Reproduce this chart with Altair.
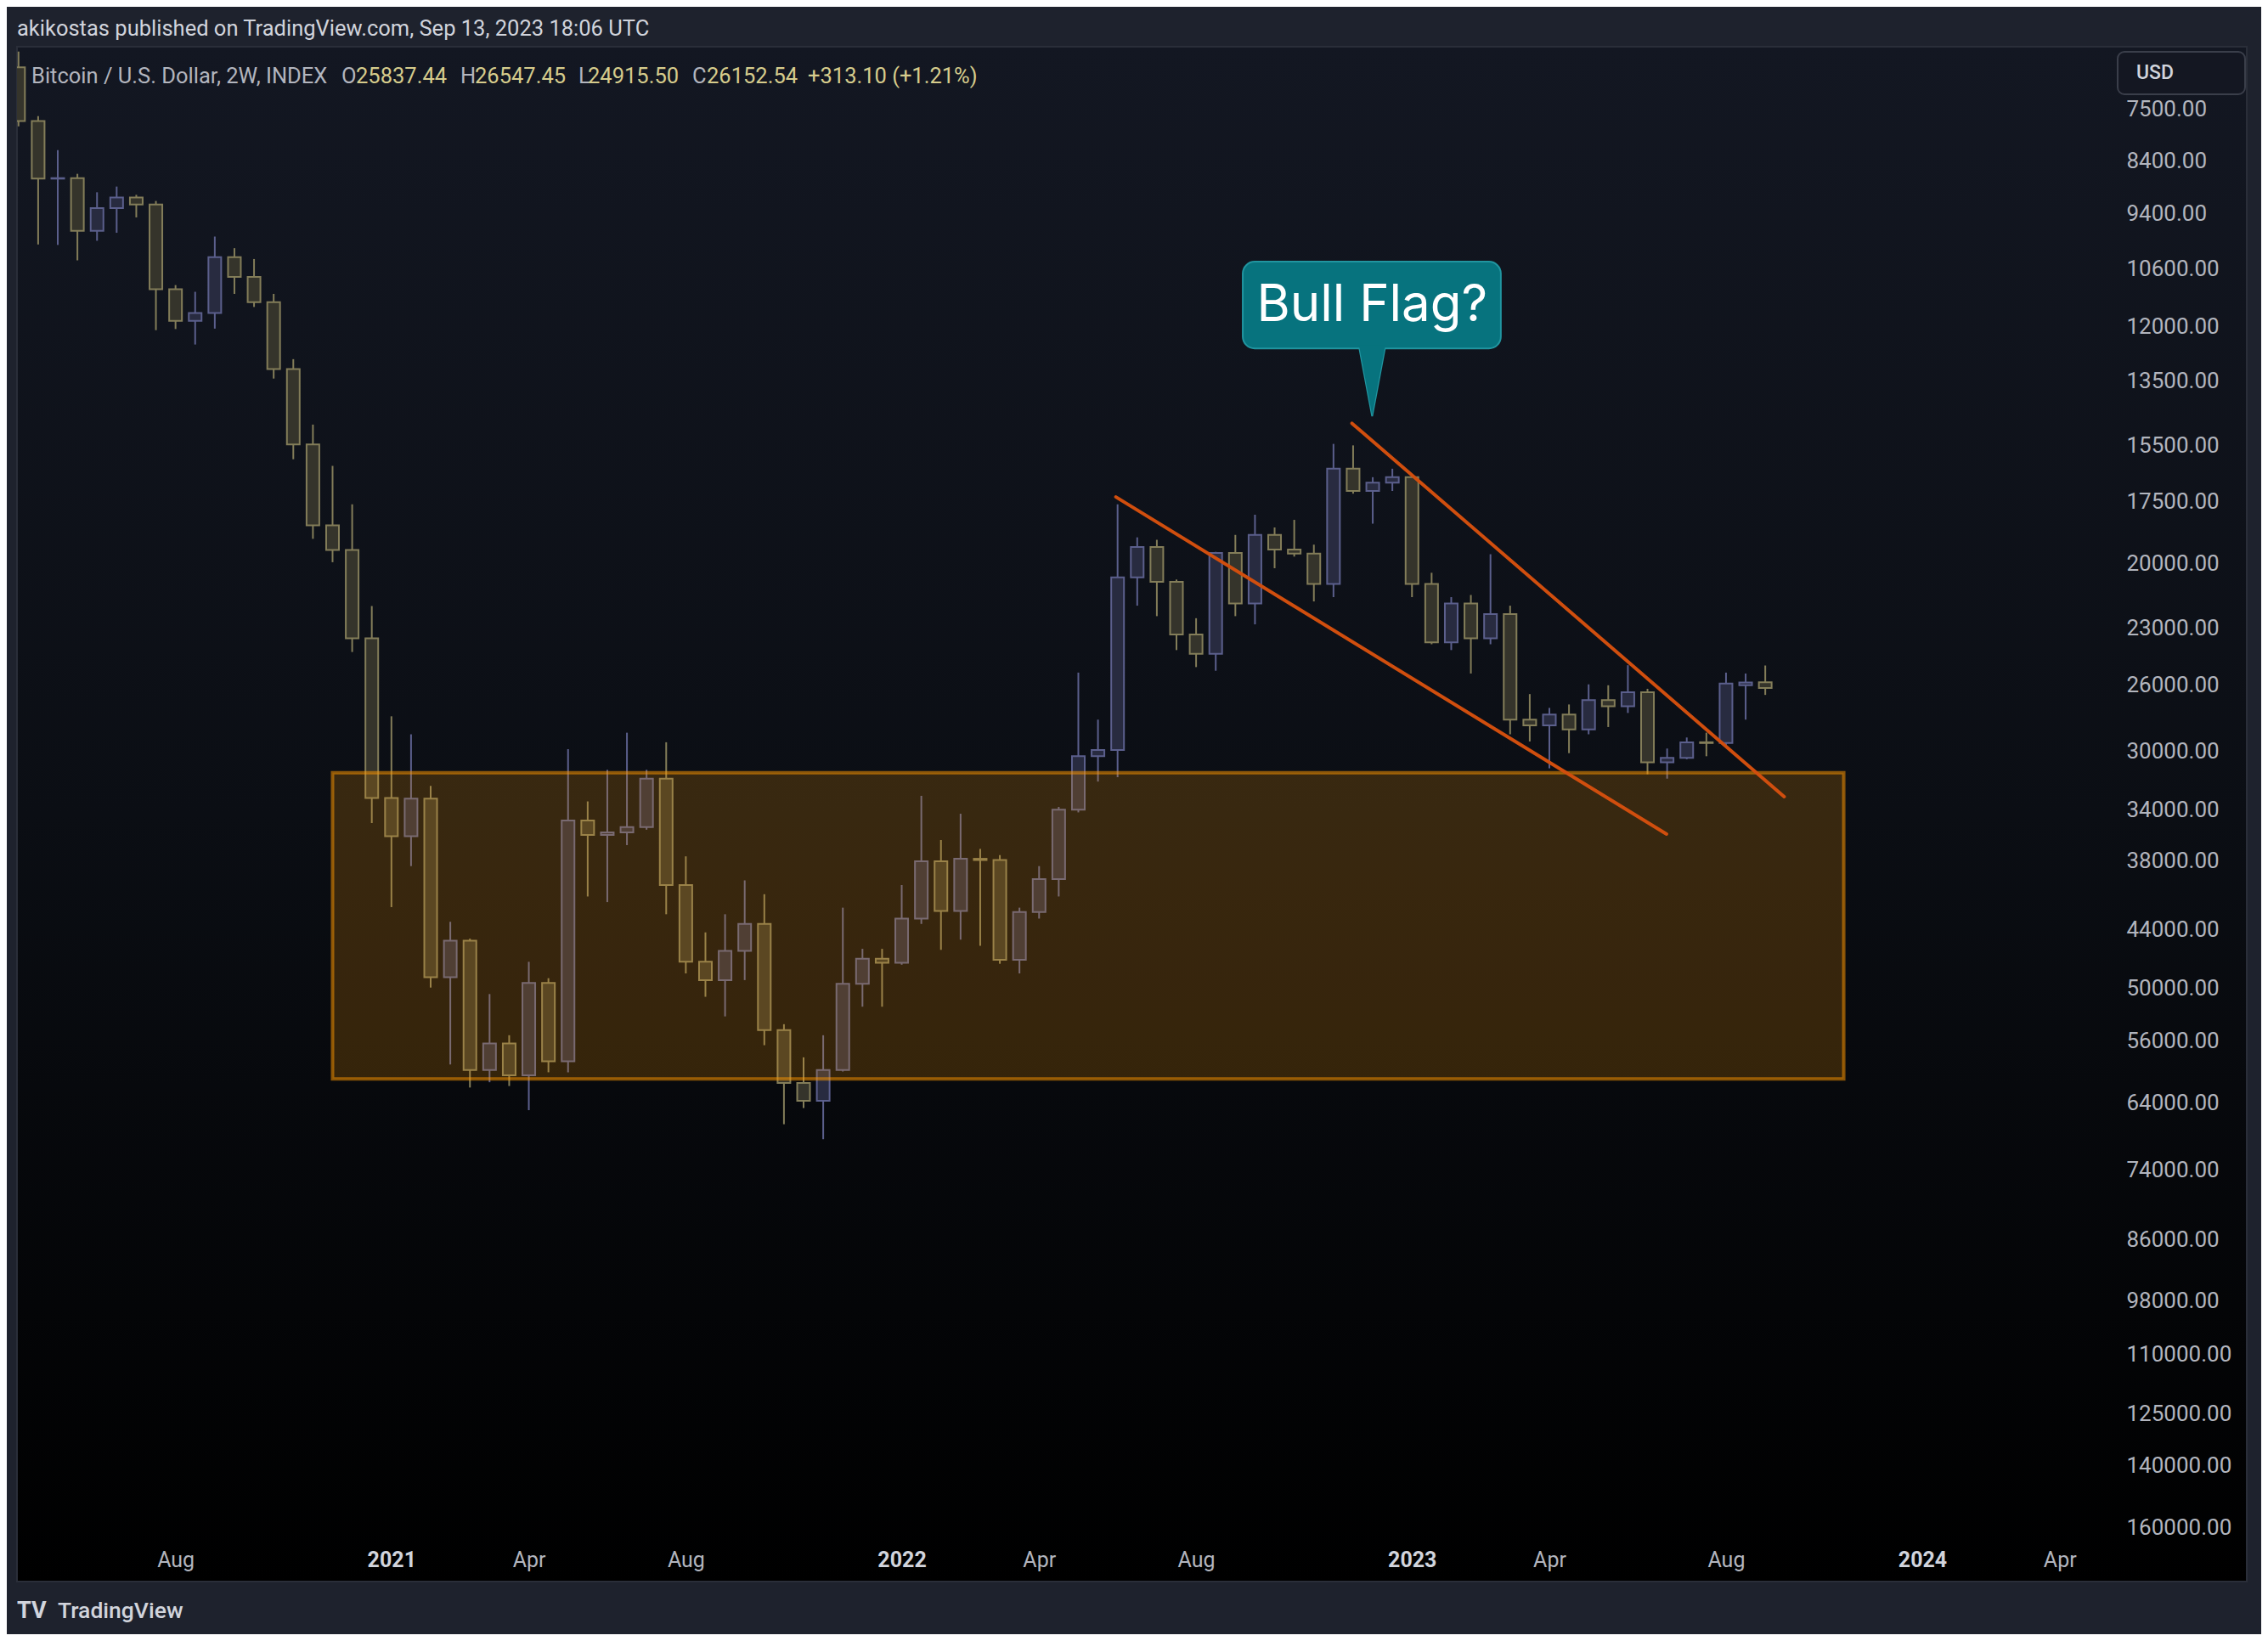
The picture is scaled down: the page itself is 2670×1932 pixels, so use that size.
import altair as alt
import pandas as pd

# ---------------- data ----------------
dates = ["2020-04-13","2020-04-27","2020-05-11","2020-05-25","2020-06-08","2020-06-22","2020-07-06","2020-07-20",
         "2020-08-03","2020-08-17","2020-08-31","2020-09-14","2020-09-28","2020-10-12","2020-10-26","2020-11-09",
         "2020-11-23","2020-12-07","2020-12-21","2021-01-04","2021-01-18","2021-02-01","2021-02-15","2021-03-01",
         "2021-03-15","2021-03-29","2021-04-12","2021-04-26","2021-05-10","2021-05-24","2021-06-07","2021-06-21",
         "2021-07-05","2021-07-19","2021-08-02","2021-08-16","2021-08-30","2021-09-13","2021-09-27","2021-10-11",
         "2021-10-25","2021-11-08","2021-11-22","2021-12-06","2021-12-20","2022-01-03","2022-01-17","2022-01-31",
         "2022-02-14","2022-02-28","2022-03-14","2022-03-28","2022-04-11","2022-04-25","2022-05-09","2022-05-23",
         "2022-06-06","2022-06-20","2022-07-04","2022-07-18","2022-08-01","2022-08-15","2022-08-29","2022-09-12",
         "2022-09-26","2022-10-10","2022-10-24","2022-11-07","2022-11-21","2022-12-05","2022-12-19","2023-01-02",
         "2023-01-16","2023-01-30","2023-02-13","2023-02-27","2023-03-13","2023-03-27","2023-04-10","2023-04-24",
         "2023-05-08","2023-05-22","2023-06-05","2023-06-19","2023-07-03","2023-07-17","2023-07-31","2023-08-14",
         "2023-08-28","2023-09-11"]

opens = [6860, 7700, 8720, 8710, 9760, 9290, 9080, 9220, 11070, 11850,
         11650, 10330, 10780, 11380, 13150, 15470, 18420, 19420, 23500, 33150,
         36000, 33200, 48800, 45100, 59600, 56300, 60300, 49400, 58500, 34800,
         35900, 35700, 35300, 31800, 40000, 47200, 49100, 46100, 43500, 54700,
         61300, 63700, 59600, 49500, 46900, 47300, 43000, 38000, 42300, 37800,
         37900, 47000, 42400, 39500, 34000, 30300, 29900, 20600, 19300, 20800,
         23300, 24300, 19550, 21800, 18800, 19400, 19570, 20900, 16300, 17100,
         16800, 16600, 20900, 23700, 21800, 23500, 22300, 28000, 28350, 27700,
         28600, 26850, 27200, 26400, 30700, 30400, 29400, 29450, 26000, 25837.44]

highs = [7790, 10050, 10060, 10400, 9970, 9800, 9480, 12090, 12060, 12470,
         12050, 11180, 11500, 13420, 15970, 18960, 19940, 24200, 35000, 41950,
         38400, 49900, 58900, 61900, 61200, 61700, 65000, 59900, 59900, 41000,
         41500, 36700, 35500, 42600, 48400, 50900, 53100, 49100, 56500, 67000,
         64700, 69200, 59800, 52000, 52000, 47500, 43500, 46000, 45000, 45600,
         47400, 48400, 43000, 41000, 34200, 32000, 31700, 21900, 22400, 24100,
         25000, 25200, 22400, 22800, 20200, 19700, 21700, 21500, 17200, 18350,
         17100, 21500, 23800, 24100, 25350, 23800, 28900, 29350, 31100, 30100,
         28900, 28450, 27600, 31500, 31800, 30500, 30300, 29600, 28000, 26547.45]

lows = [6630, 7620, 8200, 8630, 8980, 8870, 9030, 9150, 10970, 11130,
        9880, 10130, 10370, 11180, 12870, 14820, 16200, 17600, 21920, 27800,
        28900, 32300, 43300, 44900, 50600, 55300, 47200, 48900, 29840, 33400,
        31200, 28800, 31200, 29400, 37600, 44300, 42600, 39600, 40800, 54000,
        58000, 55300, 42000, 45900, 45900, 40000, 33000, 36300, 34300, 37000,
        37500, 42000, 38400, 33800, 25300, 28000, 17600, 18900, 19000, 20700,
        22500, 19500, 18800, 18000, 18500, 18200, 19200, 15450, 15500, 16600,
        16300, 16500, 20400, 21500, 21400, 19600, 21900, 26500, 27300, 27100,
        25950, 26000, 24900, 26200, 29800, 29100, 28800, 25300, 25350, 24915.50]

closes = [7700, 8720, 8710, 9760, 9290, 9080, 9220, 11070, 11850, 11650,
          10330, 10780, 11380, 13150, 15470, 18420, 19420, 23500, 33150, 36000,
          33200, 48800, 45100, 59600, 56300, 60300, 49400, 58500, 34800, 35900,
          35700, 35300, 31800, 40000, 47200, 49100, 46100, 43500, 54700, 61300,
          63700, 59600, 49500, 46900, 47300, 43000, 38000, 42300, 37800, 37900,
          47000, 42400, 39500, 34000, 30300, 29900, 20600, 19300, 20800, 23300,
          24300, 19550, 21800, 18800, 19400, 19570, 20900, 16300, 17100, 16800,
          16600, 20900, 23700, 21800, 23500, 22300, 28000, 28350, 27700, 28600,
          26850, 27200, 26400, 30700, 30400, 29400, 29450, 25900, 25840, 26152.54]

price_ticks = [7500, 8400, 9400, 10600, 12000, 13500, 15500, 17500, 20000, 23000, 26000, 30000,
               34000, 38000, 44000, 50000, 56000, 64000, 74000, 86000, 98000, 110000, 125000,
               140000, 160000]
time_ticks = ["2020-08-03", "2021-01-04", "2021-04-12", "2021-08-02", "2022-01-03", "2022-04-11",
              "2022-08-01", "2023-01-02", "2023-04-10", "2023-08-14", "2024-01-01", "2024-04-08"]

# annotations
zone_start = ["2020-11-23"]
zone_end = ["2023-11-06"]
zone_top = [31400]
zone_bottom = [60750]

line_ids = ["lower", "lower", "upper", "upper"]
line_dates = ["2022-06-04T19:00:00Z", "2023-07-02T14:00:00Z", "2022-11-20T05:00:00Z", "2023-09-24T12:00:00Z"]
line_prices = [17325, 35840, 14780, 33060]

callout_start = ["2022-09-03T07:00:00Z"]
callout_end = ["2023-03-06T09:00:00Z"]
callout_top = [10430]
callout_bottom = [12575]
callout_anchor_date = ["2022-12-04T14:00:00Z"]
pointer_price = [13465]
callout_text_price = [11860]
callout_label = ["Bull Flag?"]

# ---------------- frames ----------------
df = pd.DataFrame({"date": dates, "open": opens, "high": highs, "low": lows, "close": closes})
df["dir"] = ["up" if c >= o else "down" for o, c in zip(opens, closes)]

zone_df = pd.DataFrame({"x1": zone_start, "x2": zone_end, "y1": zone_top, "y2": zone_bottom})
lines_df = pd.DataFrame({"id": line_ids, "date": line_dates, "price": line_prices})
callout_df = pd.DataFrame({"x1": callout_start, "x2": callout_end, "y1": callout_top, "y2": callout_bottom})
pointer_df = pd.DataFrame({"date": callout_anchor_date, "price": pointer_price})
ctext_df = pd.DataFrame({"date": callout_anchor_date, "price": callout_text_price, "label": callout_label})
one = pd.DataFrame({"k": [0]})

# ---------------- scales / axes ----------------
PLOT_W, PLOT_H = 2440, 1755
origin_ms = pd.Timestamp("2023-01-02").timestamp() * 1000
px_per_day = 23.2 / 14.0
day_ms = 86400000
left_ms = origin_ms + (20 - 1664) / px_per_day * day_ms
right_ms = origin_ms + (2460 - 1664) / px_per_day * day_ms

xscale = alt.Scale(type="utc", domain=[left_ms, right_ms], nice=False)
yscale = alt.Scale(type="log", domain=[6561, 163300], reverse=True, nice=False, zero=False)

FONT = "Roboto"
UP_FILL, UP_LINE = "#35342b", "#837d59"
DN_FILL, DN_LINE = "#282b40", "#5b5f8c"

def tick_dt(s):
    y, m, d = map(int, s.split("-"))
    return alt.DateTime(year=y, month=m, date=d, utc=True)

xaxis = alt.Axis(values=[tick_dt(s) for s in time_ticks],
                 labelExpr="utcmonth(datum.value) == 0 ? utcFormat(datum.value, '%Y') : utcFormat(datum.value, '%b')",
                 labelFontWeight={"condition": {"test": "utcmonth(datum.value) == 0", "value": "bold"}, "value": "normal"},
                 labelColor={"condition": {"test": "utcmonth(datum.value) == 0", "value": "#d1d4dc"}, "value": "#b2b5be"},
                 labelFont=FONT, labelFontSize=25, ticks=False, domain=False, grid=False,
                 labelPadding=26, labelBaseline="middle", labelOverlap=False, labelFlush=False,
                 title=None, zindex=1)
yaxis = alt.Axis(orient="right", values=price_ticks, format=".2f", labelFont=FONT, labelFontSize=26,
                 labelColor="#b2b5be", labelAlign="left", labelPadding=43, ticks=False, domain=False,
                 grid=False, labelBaseline="middle", labelOverlap=False, labelFlush=False, title=None, zindex=1)

def X(field):
    return alt.X(field, scale=xscale, axis=xaxis)

def Y(field):
    return alt.Y(field, scale=yscale, axis=yaxis)

dir_scale_fill = alt.Scale(domain=["up", "down"], range=[UP_FILL, DN_FILL])
dir_scale_line = alt.Scale(domain=["up", "down"], range=[UP_LINE, DN_LINE])

# ---------------- layers ----------------
bg = alt.Chart(one).mark_rect(
    color=alt.LinearGradient(gradient="linear",
                             stops=[alt.GradientStop(offset=0, color="#131722"),
                                    alt.GradientStop(offset=0.5, color="#0b0e14"),
                                    alt.GradientStop(offset=1, color="#000000")],
                             x1=0, x2=0, y1=0, y2=1),
    stroke="#2a2e39", strokeWidth=2
).encode(x=alt.value(0), x2=alt.value(2625), y=alt.value(0), y2=alt.value(1807))

wicks = alt.Chart(df).mark_rule(strokeWidth=2, clip=True).encode(
    x=X("date:T"), y=Y("low:Q"), y2="high:Q",
    color=alt.Color("dir:N", scale=dir_scale_line, legend=None),
)

bodies = alt.Chart(df).mark_bar(size=15, strokeWidth=2, clip=True).encode(
    x=X("date:T"), y=Y("open:Q"), y2="close:Q",
    fill=alt.Fill("dir:N", scale=dir_scale_fill, legend=None),
    stroke=alt.Stroke("dir:N", scale=dir_scale_line, legend=None),
)

zone = alt.Chart(zone_df).mark_rect(fill="#ff9800", fillOpacity=0.19, stroke="#ff9800",
                                    strokeOpacity=0.52, strokeWidth=4).encode(
    x=X("x1:T"), x2="x2:T", y=Y("y1:Q"), y2="y2:Q")

trend = alt.Chart(lines_df).mark_line(color="#d04e0e", strokeWidth=4, strokeCap="round").encode(
    x=X("date:T"), y=Y("price:Q"), detail="id:N")

TRI = "M-0.376,-1L0.376,-1L0,1Z"
TEAL, TEAL_EDGE = "#07737e", "#2195a0"
pointer_stroked = alt.Chart(pointer_df).mark_point(shape=TRI, size=7225, filled=True, fill=TEAL,
                                                    stroke=TEAL_EDGE, strokeWidth=2, opacity=1).encode(
    x=X("date:T"), y=Y("price:Q"))

callout_box = alt.Chart(callout_df).mark_rect(fill=TEAL, stroke=TEAL_EDGE, strokeWidth=2, cornerRadius=14).encode(
    x=X("x1:T"), x2="x2:T", y=Y("y1:Q"), y2="y2:Q")

pointer_fill = alt.Chart(pointer_df).mark_point(shape=TRI, size=6800, filled=True, fill=TEAL,
                                                 strokeWidth=0, opacity=1).encode(
    x=X("date:T"), y=Y("price:Q"))

callout_txt = alt.Chart(ctext_df).mark_text(font="Inter", fontSize=60, color="#ffffff",
                                            align="center", baseline="alphabetic").encode(
    x=X("date:T"), y=Y("price:Q"), text="label:N")

def txt(s, x, y, color, size=25.5, weight="normal", align="left", font=FONT):
    return alt.Chart(one).mark_text(text=s, font=font, fontSize=size, fontWeight=weight, color=color,
                                    align=align, baseline="middle").encode(x=alt.value(x), y=alt.value(y))

GRAY = "#b2b5be"
VAL = "#d6cc8c"
texts = [
    txt("akikostas published on TradingView.com, Sep 13, 2023 18:06 UTC", 0, -21, "#d1d4dc", size=25.5),
    txt("Bitcoin / U.S. Dollar, 2W, INDEX", 17, 35, GRAY),
    txt("O", 382, 35, GRAY), txt("25837.44", 399, 35, VAL),
    txt("H", 522, 35, GRAY), txt("26547.45", 539, 35, VAL),
    txt("L", 661, 35, GRAY), txt("24915.50", 672, 35, VAL),
    txt("C", 795, 35, GRAY), txt("26152.54", 812, 35, VAL),
    txt("+313.10 (+1.21%)", 931, 35, VAL),
    txt("USD", 2517, 31, "#d1d4dc", size=23, weight=500, align="center"),
    txt("TV", 0, 1842, "#d1d4dc", size=27, weight="bold"),
    txt("TradingView", 48, 1842, "#d1d4dc", size=26.5, weight=500),
]

usd_box = alt.Chart(one).mark_rect(fill="#141722", stroke="#3a3e4a", strokeWidth=2, cornerRadius=8).encode(
    x=alt.value(2473), x2=alt.value(2623), y=alt.value(6), y2=alt.value(56))

chart = alt.layer(
    bg, wicks, bodies, zone, trend, pointer_stroked, callout_box, pointer_fill, callout_txt, usd_box, *texts
).properties(
    width=PLOT_W, height=PLOT_H,
    background="#1e222d",
    padding={"left": 12, "top": 47, "right": 202, "bottom": 114},
    autosize=alt.AutoSizeParams(type="none"),
).configure_view(stroke=None)

chart.save("out.html", embed_options={"renderer": "svg", "actions": False})
